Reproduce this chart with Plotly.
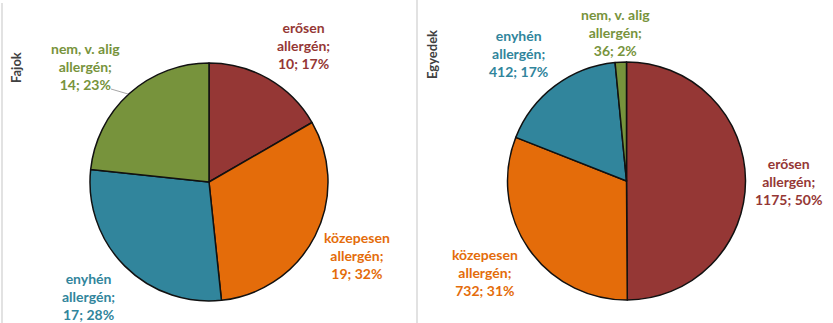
import plotly.graph_objects as go

# Allergenicity categories and counts
categories = ["erősen allergén", "közepesen allergén", "enyhén allergén", "nem, v. alig allergén"]
fajok_values = [10, 19, 17, 14]          # number of species
egyedek_values = [1175, 732, 412, 36]     # number of individuals
label_lines = [["erősen", "allergén;"], ["közepesen", "allergén;"],
               ["enyhén", "allergén;"], ["nem, v. alig", "allergén;"]]

colors = ["#953735", "#E46C0A", "#31859C", "#77933C"]

W, H = 833, 323
FONT = "Lato"


def px_x(x):
    return x / W


def px_y(y):
    return 1 - y / H


fig = go.Figure()

# Left pie: Fajok, right pie: Egyedek
pie_domains = [
    dict(x=[px_x(90), px_x(328)], y=[px_y(301), px_y(63)]),
    dict(x=[px_x(507.5), px_x(745.5)], y=[px_y(300), px_y(62)]),
]
for vals, dom, name in [(fajok_values, pie_domains[0], "Fajok"),
                        (egyedek_values, pie_domains[1], "Egyedek")]:
    fig.add_trace(go.Pie(
        labels=categories, values=vals, name=name,
        sort=False, direction="clockwise", rotation=0,
        marker=dict(colors=colors, line=dict(color="#111111", width=1.5)),
        textinfo="none", hoverinfo="label+value+percent",
        domain=dom, showlegend=False,
    ))

# Data labels ("name; value; percent") placed around each pie
label_pos = [
    [(303, 46), (357, 255), (88, 296), (85, 67)],
    [(788, 181), (485, 272), (518, 54), (615, 33)],
]
for vals, positions in zip([fajok_values, egyedek_values], label_pos):
    total = sum(vals)
    for i, (v, (x, y)) in enumerate(zip(vals, positions)):
        pct = round(100 * v / total)
        text = "<br>".join(label_lines[i] + [f"{v}; {pct}%"])
        fig.add_annotation(
            x=px_x(x), y=px_y(y), xref="paper", yref="paper",
            text=text, showarrow=False, xanchor="center", yanchor="middle",
            font=dict(family=FONT, size=14, color=colors[i], weight="bold"),
            align="center",
        )

# Leader line for the small label on the left pie
fig.add_shape(type="line", xref="paper", yref="paper",
              x0=px_x(111), y0=px_y(89), x1=px_x(128), y1=px_y(94),
              line=dict(color="#a6a6a6", width=1))

# Panel titles (vertical)
for text, x, y in [("Fajok", 16, 67), ("Egyedek", 432, 55)]:
    fig.add_annotation(
        x=px_x(x), y=px_y(y), xref="paper", yref="paper",
        text=text, showarrow=False, textangle=-90,
        xanchor="center", yanchor="middle",
        font=dict(family=FONT, size=13, color="#404040", weight="bold"),
    )

# Panel border lines
for x in [2, 417]:
    fig.add_shape(type="line", xref="paper", yref="paper",
                  x0=px_x(x), x1=px_x(x), y0=0, y1=px_y(3 if x == 2 else 0),
                  line=dict(color="#d9d9d9", width=1.5))

fig.update_layout(
    width=W, height=H,
    margin=dict(l=0, r=0, t=0, b=0),
    paper_bgcolor="white", plot_bgcolor="white",
)

fig.write_html("out.html")
